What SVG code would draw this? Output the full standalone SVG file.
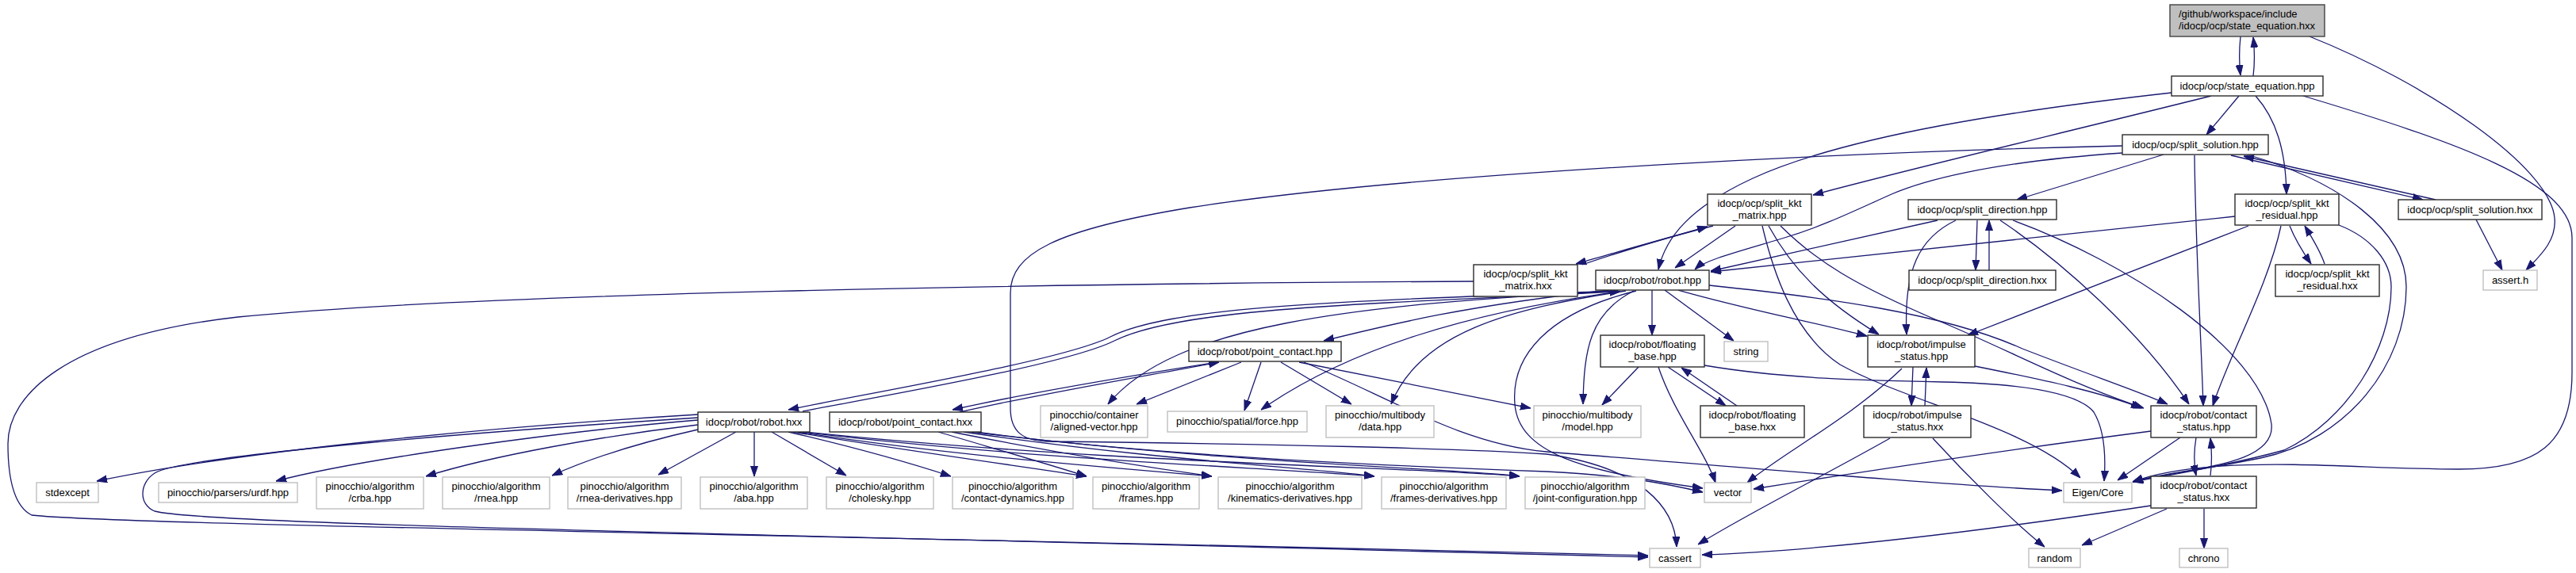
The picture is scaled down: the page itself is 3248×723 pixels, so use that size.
<svg xmlns="http://www.w3.org/2000/svg" width="3248" height="723" viewBox="0 0 3248 723">
<style>
text{font-family:"Liberation Sans",Arial,Helvetica,sans-serif;font-size:13px;fill:#000;text-anchor:middle}
text.l{text-anchor:start}
.n rect{fill:#fff;stroke:#2b2b2b;stroke-width:1.4}
.g rect{fill:#fff;stroke:#c0c0c0;stroke-width:1.4}
.r rect{fill:#bfbfbf;stroke:#404040;stroke-width:1.4}
#edges path{fill:none;stroke:#191970;stroke-width:1.3;marker-end:url(#ah)}
</style>
<defs>
<marker id="ah" viewBox="0 0 13 10" refX="13" refY="5" markerUnits="userSpaceOnUse" markerWidth="13" markerHeight="10" orient="auto"><path d="M0,0.5 L13,5 L0,9.5 z" fill="#191970" stroke="#191970" stroke-width="1"/></marker>
</defs>
<rect width="3248" height="723" fill="#fff"/>
<g id="edges">
<path d="M2825,46 C2823,65 2823,78 2825,95"/>
<path d="M2841,96 C2843,80 2843,65 2841,47"/>
<path d="M2912,46 C3060,105 3215,210 3221,275 C3224,305 3200,325 3185,341"/>
<path d="M2738,117 C2550,138 2330,170 2210,225 C2130,262 2100,300 2091,340"/>
<path d="M2788,121 C2600,168 2400,215 2286,246"/>
<path d="M2823,121 L2782,170"/>
<path d="M2844,121 C2870,150 2882,190 2883,245"/>
<path d="M2904,121 C3100,180 3243,230 3243,300 L3243,470 C3243,560 3200,592 3100,592 C3000,592 2900,582 2800,588 C2740,592 2710,600 2689,608"/>
<path d="M2676,184 C2400,190 1800,215 1500,262 C1330,290 1274,320 1274,370 L1274,515 C1274,545 1290,556 1320,557 C1600,560 1850,566 1950,573 C2070,590 2112,640 2114,690"/>
<path d="M2676,193 C2500,205 2420,230 2385,245 C2340,265 2300,285 2250,300 C2190,318 2150,328 2137,340"/>
<path d="M2728,195 L2543,252"/>
<path d="M2767,196 C2768,300 2775,420 2778,512"/>
<path d="M2813,196 L3055,252"/>
<path d="M3071,252 L2829,197"/>
<path d="M2840,197 C2950,230 3034,290 3034,362 C3034,460 2960,555 2850,578 C2780,592 2720,600 2689,608"/>
<path d="M2818,273 L2157,343"/>
<path d="M2835,285 L2481,423"/>
<path d="M2876,285 C2860,360 2810,450 2790,512"/>
<path d="M2887,285 C2895,305 2905,320 2914,333"/>
<path d="M2931,333 C2925,315 2915,300 2906,285"/>
<path d="M2949,284 C2990,300 3015,330 3015,362 C3015,440 2960,530 2880,568 C2800,590 2730,600 2689,608"/>
<path d="M3122,277 L3155,341"/>
<path d="M2188,285 L2112,338"/>
<path d="M2160,285 C2100,300 2040,318 1987,333"/>
<path d="M1995,334 C2050,315 2110,298 2153,286"/>
<path d="M2230,285 C2260,340 2300,380 2369,422"/>
<path d="M2222,285 C2235,340 2260,420 2320,460 C2400,505 2560,540 2623,603"/>
<path d="M2245,285 C2290,330 2340,360 2440,403 C2530,440 2600,480 2703,515"/>
<path d="M2443,278 L2157,342"/>
<path d="M2466,278 C2420,300 2400,340 2404,422"/>
<path d="M2493,278 L2491,341"/>
<path d="M2508,341 L2508,278"/>
<path d="M2522,278 C2600,330 2700,420 2760,510"/>
<path d="M2538,278 C2680,330 2850,440 2864,535 C2870,590 2750,590 2689,608"/>
<path d="M2040,367 C1700,380 1480,385 1400,425 C1340,455 1100,495 994,517"/>
<path d="M1012,519 C1110,500 1345,460 1405,430 C1485,390 1700,384 2043,368"/>
<path d="M2083,366 L2083,423"/>
<path d="M2099,366 L2186,430"/>
<path d="M2116,366 C2200,390 2280,405 2354,424"/>
<path d="M2155,360 C2300,375 2450,395 2550,440 C2640,475 2700,495 2733,510"/>
<path d="M2060,367 C2005,395 1997,440 1996,510"/>
<path d="M2063,367 C1950,395 1905,450 1910,510 C1915,570 1990,595 2147,616"/>
<path d="M2050,367 C1900,390 1790,420 1754,510"/>
<path d="M2040,368 C1850,395 1700,440 1590,517"/>
<path d="M2035,367 C1700,385 1480,410 1397,510"/>
<path d="M2030,366 C1850,385 1750,410 1669,430"/>
<path d="M2066,463 L2020,511"/>
<path d="M2091,463 C2110,520 2150,570 2163,609"/>
<path d="M2103,463 L2176,512"/>
<path d="M2190,512 L2120,464"/>
<path d="M2149,461 C2250,478 2350,480 2450,482 C2550,484 2620,495 2640,520 C2655,545 2655,580 2653,607"/>
<path d="M2398,465 C2330,530 2250,570 2203,609"/>
<path d="M2412,463 L2410,512"/>
<path d="M2427,512 L2429,464"/>
<path d="M2490,462 C2580,480 2650,495 2700,515"/>
<path d="M2383,553 C2300,600 2200,650 2141,687"/>
<path d="M2437,553 C2480,600 2540,660 2578,690"/>
<path d="M2712,544 C2550,565 2350,595 2211,617"/>
<path d="M2749,552 L2670,606"/>
<path d="M2769,552 C2766,570 2766,585 2769,600"/>
<path d="M2787,600 C2789,585 2789,570 2787,553"/>
<path d="M2712,638 C2500,670 2300,695 2146,700"/>
<path d="M2732,642 L2625,688"/>
<path d="M2779,642 L2779,692"/>
<path d="M1565,457 L1433,510"/>
<path d="M1590,457 L1569,518"/>
<path d="M1615,457 L1704,510"/>
<path d="M1638,457 C1750,480 1850,500 1930,515"/>
<path d="M1535,457 C1420,475 1300,495 1201,517"/>
<path d="M1210,520 C1310,497 1430,477 1537,457"/>
<path d="M1644,457 C1750,500 1840,560 1950,570 C2200,590 2450,612 2600,619"/>
<path d="M1230,545 C1450,575 1750,588 1950,595 C2050,600 2100,610 2147,621"/>
<path d="M880,523 C600,540 300,570 122,607"/>
<path d="M880,527 C600,545 230,575 195,597 C175,610 175,637 195,645 C260,662 900,672 2078,703"/>
<path d="M880,530 C700,545 450,580 348,607"/>
<path d="M880,536 C760,550 620,575 537,601"/>
<path d="M880,542 C800,560 740,580 696,600"/>
<path d="M928,545 L830,599"/>
<path d="M951,545 L951,601"/>
<path d="M973,545 L1067,600"/>
<path d="M994,545 C1080,565 1150,585 1199,601"/>
<path d="M1000,545 C1150,570 1300,590 1370,601"/>
<path d="M1005,545 C1200,575 1400,590 1528,601"/>
<path d="M1010,545 C1300,580 1600,590 1733,601"/>
<path d="M1015,545 C1400,585 1800,590 1916,601"/>
<path d="M1183,545 C1250,565 1320,585 1370,601"/>
<path d="M1200,545 C1350,575 1450,590 1528,601"/>
<path d="M1215,545 C1450,580 1650,590 1733,601"/>
<path d="M1225,545 C1550,585 1850,592 1916,601"/>
<path d="M1858,355 C1300,358 600,370 300,400 C80,425 10,500 10,560 C10,610 20,640 40,650 C150,662 900,672 2078,701"/>
</g>
<g id="n1" class="r"><rect x="2736" y="6" width="195" height="40"/><text class="l" x="2747" y="21.5">/github/workspace/include</text><text class="l" x="2747" y="36.5">/idocp/ocp/state_equation.hxx</text></g>
<g id="n2" class="n"><rect x="2738" y="96" width="191" height="25"/><text x="2833.5" y="112.8">idocp/ocp/state_equation.hpp</text></g>
<g id="n3" class="n"><rect x="2676" y="170" width="184" height="25"/><text x="2768" y="186.8">idocp/ocp/split_solution.hpp</text></g>
<g id="n4" class="n"><rect x="2818" y="245" width="131" height="39"/><text x="2883.5" y="260.5">idocp/ocp/split_kkt</text><text x="2883.5" y="275.5">_residual.hpp</text></g>
<g id="n5" class="n"><rect x="3024" y="252" width="181" height="25"/><text x="3114.5" y="268.8">idocp/ocp/split_solution.hxx</text></g>
<g id="n6" class="n"><rect x="2869" y="334" width="131" height="40"/><text x="2934.5" y="349.5">idocp/ocp/split_kkt</text><text x="2934.5" y="364.5">_residual.hxx</text></g>
<g id="n7" class="g"><rect x="3131" y="341" width="68" height="25"/><text x="3165" y="357.8">assert.h</text></g>
<g id="n8" class="n"><rect x="2153" y="245" width="131" height="39"/><text x="2218.5" y="260.5">idocp/ocp/split_kkt</text><text x="2218.5" y="275.5">_matrix.hpp</text></g>
<g id="n9" class="n"><rect x="2406" y="252" width="187" height="25"/><text x="2499.5" y="268.8">idocp/ocp/split_direction.hpp</text></g>
<g id="n10" class="n"><rect x="2012" y="341" width="143" height="25"/><text x="2083.5" y="357.8">idocp/robot/robot.hpp</text></g>
<g id="n11" class="n"><rect x="2407" y="341" width="185" height="25"/><text x="2499.5" y="357.8">idocp/ocp/split_direction.hxx</text></g>
<g id="n12" class="n"><rect x="1858" y="334" width="131" height="40"/><text x="1923.5" y="349.5">idocp/ocp/split_kkt</text><text x="1923.5" y="364.5">_matrix.hxx</text></g>
<g id="n13" class="n"><rect x="2018" y="423" width="131" height="40"/><text x="2083.5" y="438.5">idocp/robot/floating</text><text x="2083.5" y="453.5">_base.hpp</text></g>
<g id="n14" class="g"><rect x="2174" y="431" width="55" height="25"/><text x="2201.5" y="447.8">string</text></g>
<g id="n15" class="n"><rect x="2355" y="423" width="135" height="40"/><text x="2422.5" y="438.5">idocp/robot/impulse</text><text x="2422.5" y="453.5">_status.hpp</text></g>
<g id="n16" class="g"><rect x="1934" y="512" width="135" height="40"/><text x="2001.5" y="527.5">pinocchio/multibody</text><text x="2001.5" y="542.5">/model.hpp</text></g>
<g id="n17" class="n"><rect x="2144" y="512" width="131" height="40"/><text x="2209.5" y="527.5">idocp/robot/floating</text><text x="2209.5" y="542.5">_base.hxx</text></g>
<g id="n18" class="n"><rect x="2350" y="512" width="135" height="40"/><text x="2417.5" y="527.5">idocp/robot/impulse</text><text x="2417.5" y="542.5">_status.hxx</text></g>
<g id="n19" class="n"><rect x="2712" y="512" width="133" height="40"/><text x="2778.5" y="527.5">idocp/robot/contact</text><text x="2778.5" y="542.5">_status.hpp</text></g>
<g id="n20" class="g"><rect x="2149" y="609" width="59" height="25"/><text x="2178.5" y="625.8">vector</text></g>
<g id="n21" class="g"><rect x="2602" y="609" width="86" height="25"/><text x="2645" y="625.8">Eigen/Core</text></g>
<g id="n22" class="n"><rect x="2712" y="601" width="133" height="40"/><text x="2778.5" y="616.5">idocp/robot/contact</text><text x="2778.5" y="631.5">_status.hxx</text></g>
<g id="n23" class="g"><rect x="2080" y="692" width="64" height="24"/><text x="2112" y="708.5">cassert</text></g>
<g id="n24" class="g"><rect x="2558" y="692" width="65" height="24"/><text x="2590.5" y="708.5">random</text></g>
<g id="n25" class="g"><rect x="2748" y="692" width="61" height="24"/><text x="2778.5" y="708.5">chrono</text></g>
<g id="n26" class="n"><rect x="1499" y="431" width="192" height="25"/><text x="1595" y="447.8">idocp/robot/point_contact.hpp</text></g>
<g id="n27" class="g"><rect x="1312" y="512" width="135" height="40"/><text x="1379.5" y="527.5">pinocchio/container</text><text x="1379.5" y="542.5">/aligned-vector.hpp</text></g>
<g id="n28" class="g"><rect x="1472" y="519" width="176" height="26"/><text x="1560" y="536.3">pinocchio/spatial/force.hpp</text></g>
<g id="n29" class="g"><rect x="1672" y="512" width="136" height="40"/><text x="1740" y="527.5">pinocchio/multibody</text><text x="1740" y="542.5">/data.hpp</text></g>
<g id="n30" class="n"><rect x="880" y="520" width="141" height="25"/><text x="950.5" y="536.8">idocp/robot/robot.hxx</text></g>
<g id="n31" class="n"><rect x="1046" y="520" width="191" height="25"/><text x="1141.5" y="536.8">idocp/robot/point_contact.hxx</text></g>
<g id="n32" class="g"><rect x="46" y="609" width="78" height="25"/><text x="85" y="625.8">stdexcept</text></g>
<g id="n33" class="g"><rect x="200" y="609" width="175" height="25"/><text x="287.5" y="625.8">pinocchio/parsers/urdf.hpp</text></g>
<g id="n34" class="g"><rect x="399" y="602" width="135" height="40"/><text x="466.5" y="617.5">pinocchio/algorithm</text><text x="466.5" y="632.5">/crba.hpp</text></g>
<g id="n35" class="g"><rect x="558" y="602" width="135" height="40"/><text x="625.5" y="617.5">pinocchio/algorithm</text><text x="625.5" y="632.5">/rnea.hpp</text></g>
<g id="n36" class="g"><rect x="716" y="602" width="143" height="40"/><text x="787.5" y="617.5">pinocchio/algorithm</text><text x="787.5" y="632.5">/rnea-derivatives.hpp</text></g>
<g id="n37" class="g"><rect x="883" y="602" width="135" height="40"/><text x="950.5" y="617.5">pinocchio/algorithm</text><text x="950.5" y="632.5">/aba.hpp</text></g>
<g id="n38" class="g"><rect x="1042" y="602" width="135" height="40"/><text x="1109.5" y="617.5">pinocchio/algorithm</text><text x="1109.5" y="632.5">/cholesky.hpp</text></g>
<g id="n39" class="g"><rect x="1201" y="602" width="152" height="40"/><text x="1277" y="617.5">pinocchio/algorithm</text><text x="1277" y="632.5">/contact-dynamics.hpp</text></g>
<g id="n40" class="g"><rect x="1378" y="602" width="134" height="40"/><text x="1445" y="617.5">pinocchio/algorithm</text><text x="1445" y="632.5">/frames.hpp</text></g>
<g id="n41" class="g"><rect x="1536" y="602" width="181" height="40"/><text x="1626.5" y="617.5">pinocchio/algorithm</text><text x="1626.5" y="632.5">/kinematics-derivatives.hpp</text></g>
<g id="n42" class="g"><rect x="1742" y="602" width="157" height="40"/><text x="1820.5" y="617.5">pinocchio/algorithm</text><text x="1820.5" y="632.5">/frames-derivatives.hpp</text></g>
<g id="n43" class="g"><rect x="1923" y="602" width="151" height="40"/><text x="1998.5" y="617.5">pinocchio/algorithm</text><text x="1998.5" y="632.5">/joint-configuration.hpp</text></g>
</svg>
